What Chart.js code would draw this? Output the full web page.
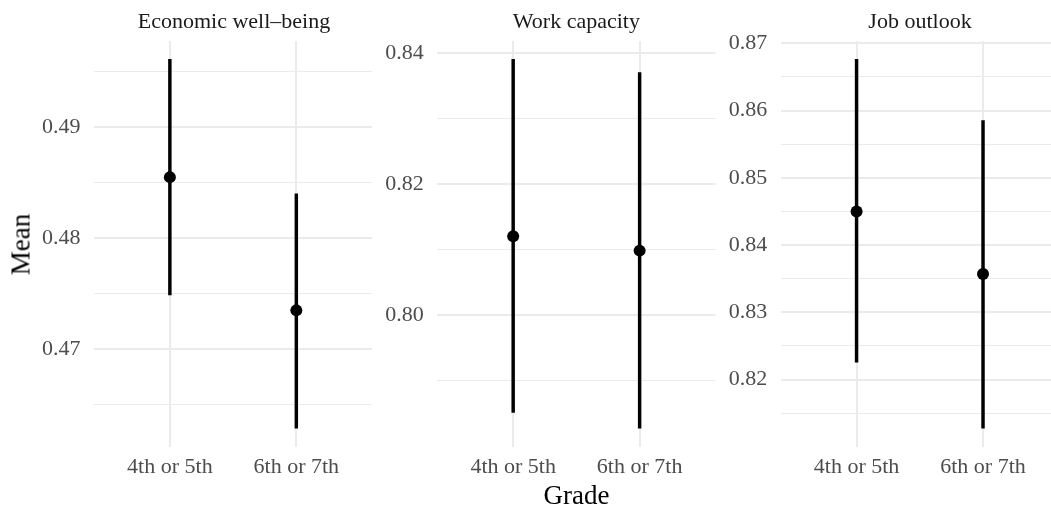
<!DOCTYPE html>
<html><head><meta charset="utf-8">
<script src="https://cdn.jsdelivr.net/npm/chart.js@4.4.1/dist/chart.umd.min.js"></script>
<style>
html,body{margin:0;padding:0;background:#fff;overflow:hidden;}
#wrap{position:relative;width:1051px;height:509px;background:#fff;}
canvas{position:absolute;left:0;top:0;}
.t{position:absolute;font-family:"Liberation Serif","Times New Roman",serif;white-space:nowrap;line-height:1;text-align:center;}
</style></head><body>
<div id="wrap">
<canvas id="c0" width="1051" height="509"></canvas>
<canvas id="c1" width="1051" height="509"></canvas>
<canvas id="c2" width="1051" height="509"></canvas>
<div class="t" id="s0" style="left:34px;width:400px;top:10px;font-size:22px;color:#1a1a1a;"></div>
<div class="t" id="s1" style="left:376.4px;width:400px;top:10px;font-size:22px;color:#1a1a1a;"></div>
<div class="t" id="s2" style="left:720px;width:400px;top:10px;font-size:22px;color:#1a1a1a;"></div>
<div class="t" style="left:-79px;width:200px;top:230.5px;height:27px;font-size:27px;color:#000;transform:rotate(-90deg);">Mean</div>
<div class="t" style="left:376.4px;width:400px;top:482.3px;font-size:27px;color:#000;">Grade</div>
</div>
<script>
// ---- data ----
const categories = ["4th or 5th", "6th or 7th"];
const panelTitles = ["Economic well\u2013being", "Work capacity", "Job outlook"];

const meanEcon  = [0.4855, 0.4735];
const lowerEcon = [0.4749, 0.4629];
const upperEcon = [0.4961, 0.4840];

const meanWork  = [0.8120, 0.8098];
const lowerWork = [0.7851, 0.7827];
const upperWork = [0.8390, 0.8370];

const meanJob  = [0.8450, 0.8357];
const lowerJob = [0.8226, 0.8128];
const upperJob = [0.8676, 0.8585];

const yTicksEcon = ["0.47", "0.48", "0.49"];
const yMinorEcon = [0.465, 0.475, 0.485, 0.495];
const yTicksWork = ["0.80", "0.82", "0.84"];
const yMinorWork = [0.79, 0.81, 0.83];
const yTicksJob  = ["0.82", "0.83", "0.84", "0.85", "0.86", "0.87"];
const yMinorJob  = [0.815, 0.825, 0.835, 0.845, 0.855, 0.865];

// ---- layout ----
const panelLefts = [94, 437.3, 780.7];
const panelWidth = 278.2;
const yAxisW = 60, xAxisH = 40, topPad = 41, bottomEdge = 446.5;
const FONT = "Liberation Serif";

panelTitles.forEach((t, i) => document.getElementById("s" + i).textContent = t);

function makePanel(canvasId, idx, means, lowers, uppers, tickLabels, minors) {
  const majors = tickLabels.map(Number);
  const isMajor = v => majors.some(m => Math.abs(m - v) < 1e-9);
  const lo = Math.min(...lowers), hi = Math.max(...uppers);
  const ex = (hi - lo) * 0.05;
  const left = panelLefts[idx];
  const right = Math.min(left + panelWidth, 1051);
  const xMin = 0.4;
  const xMax = xMin + 2.2 * (right - left) / panelWidth;

  new Chart(document.getElementById(canvasId), {
    type: "bar",
    data: {
      datasets: [
        {
          type: "scatter",
          data: categories.map((c, i) => ({ x: i + 1, y: means[i] })),
          backgroundColor: "#000",
          borderWidth: 0,
          pointRadius: 6,
          pointHoverRadius: 6,
          order: 0
        },
        {
          type: "bar",
          data: categories.map((c, i) => ({ x: i + 1, y: [lowers[i], uppers[i]] })),
          backgroundColor: "#000",
          borderWidth: 0,
          barThickness: 2.8,
          order: 1
        }
      ]
    },
    options: {
      responsive: false,
      animation: false,
      devicePixelRatio: 1,
      layout: {
        autoPadding: false,
        padding: {
          left: left - yAxisW,
          right: 1051 - right,
          top: topPad,
          bottom: 509 - bottomEdge - xAxisH
        }
      },
      plugins: { legend: { display: false }, tooltip: { enabled: false }, title: { display: false } },
      scales: {
        x: {
          type: "linear",
          min: xMin, max: xMax,
          offset: false,
          bounds: "data",
          afterBuildTicks: s => { s.ticks = categories.map((c, i) => ({ value: i + 1 })); },
          afterFit: s => { s.height = xAxisH; },
          border: { display: false },
          grid: { color: "#ebebeb", lineWidth: 2, drawTicks: false, offset: false },
          ticks: {
            callback: v => categories[Math.round(v) - 1],
            font: { family: FONT, size: 22 },
            color: "#4d4d4d",
            padding: 8,
            autoSkip: false,
            maxRotation: 0
          }
        },
        y: {
          type: "linear",
          min: lo - ex, max: hi + ex,
          beginAtZero: false,
          bounds: "data",
          afterBuildTicks: s => {
            s.ticks = majors.concat(minors).sort((a, b) => a - b).map(v => ({ value: v }));
          },
          afterFit: s => { s.width = yAxisW; },
          border: { display: false },
          grid: {
            color: "#ebebeb",
            lineWidth: ctx => (ctx.tick && isMajor(ctx.tick.value)) ? 2 : 1,
            drawTicks: false
          },
          ticks: {
            callback: v => {
              const k = majors.findIndex(m => Math.abs(m - v) < 1e-9);
              return k >= 0 ? tickLabels[k] : "";
            },
            font: { family: FONT, size: 22 },
            color: "#4d4d4d",
            padding: 13.5,
            autoSkip: false
          }
        }
      }
    }
  });
}

makePanel("c0", 0, meanEcon, lowerEcon, upperEcon, yTicksEcon, yMinorEcon);
makePanel("c1", 1, meanWork, lowerWork, upperWork, yTicksWork, yMinorWork);
makePanel("c2", 2, meanJob, lowerJob, upperJob, yTicksJob, yMinorJob);
</script>
</body></html>
